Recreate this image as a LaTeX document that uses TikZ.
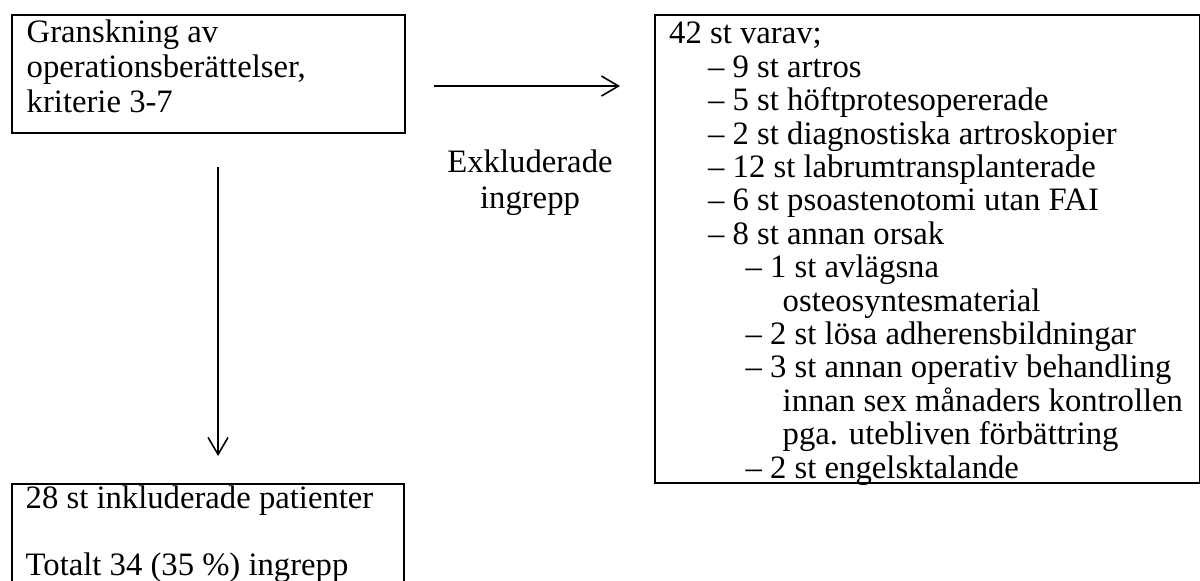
\documentclass[tikz,border=0pt]{standalone}
\usepackage{fontspec}
\setmainfont{Liberation Serif}
\usetikzlibrary{arrows.meta}

\begin{document}
\begin{tikzpicture}[
    rad/.style={anchor=base west, inner sep=0pt, font=\fontsize{9.3}{9.5}\selectfont},
    ruta/.style={draw, line width=0.6pt, anchor=north west, inner sep=0pt},
    pil/.style={line width=0.45pt, -{Straight Barb[length=0.17cm, width=0.2cm]}}
]
    \useasboundingbox (0,0) rectangle (12,5.81);

    \node[ruta, minimum width=3.93cm, minimum height=1.18cm] (gransk) at (0.11,5.67) {};
    \node[rad] (gransk1) at (0.26,5.38) {Granskning av};
    \node[rad] (gransk2) at (0.26,5.03) {operationsberättelser,};
    \node[rad] (gransk3) at (0.26,4.68) {kriterie 3-7};

    \node[ruta, minimum width=5.45cm, minimum height=4.68cm] (varav) at (6.54,5.67) {};
    \node[rad] (varav0) at (6.685,5.370) {42 st varav;};
    \node[rad] (varav1) at (7.075,5.036) {– 9 st artros};
    \node[rad] (varav2) at (7.075,4.702) {– 5 st höftprotesopererade};
    \node[rad] (varav3) at (7.075,4.368) {– 2 st diagnostiska artroskopier};
    \node[rad] (varav4) at (7.075,4.034) {– 12 st labrumtransplanterade};
    \node[rad] (varav5) at (7.075,3.700) {– 6 st psoastenotomi utan FAI};
    \node[rad] (varav6) at (7.075,3.366) {– 8 st annan orsak};
    \node[rad] (varav7) at (7.45,3.032) {– 1 st avlägsna};
    \node[rad] (varav8) at (7.82,2.698) {osteosyntesmaterial};
    \node[rad] (varav9) at (7.45,2.364) {– 2 st lösa adherensbildningar};
    \node[rad] (varav10) at (7.45,2.030) {– 3 st annan operativ behandling};
    \node[rad] (varav11) at (7.82,1.696) {innan sex månaders kontrollen};
    \node[rad] (varav12) at (7.82,1.362) {pga. utebliven förbättring};
    \node[rad] (varav13) at (7.45,1.028) {– 2 st engelsktalande};

    \node[ruta, minimum width=3.92cm, minimum height=1.5cm] (inkl) at (0.11,0.98) {};
    \node[rad] (inkl1) at (0.25,0.72) {28 st inkluderade patienter};
    \node[rad] (inkl2) at (0.25,0.05) {Totalt 34 (35 \%) ingrepp};

    \node[rad, anchor=base] (exkl1) at (5.30,4.08) {Exkluderade};
    \node[rad, anchor=base] (exkl2) at (5.30,3.72) {ingrepp};

    \draw[pil, shorten <=0.28cm, shorten >=0.34cm] ([yshift=-0.12cm]gransk.east) -- ([yshift=-0.12cm]gransk.east -| varav.west);
    \draw[pil, shorten <=0.33cm, shorten >=0.27cm] ([xshift=0.095cm]gransk.south) -- ([xshift=0.095cm]gransk.south |- inkl.north);
\end{tikzpicture}
\end{document}
